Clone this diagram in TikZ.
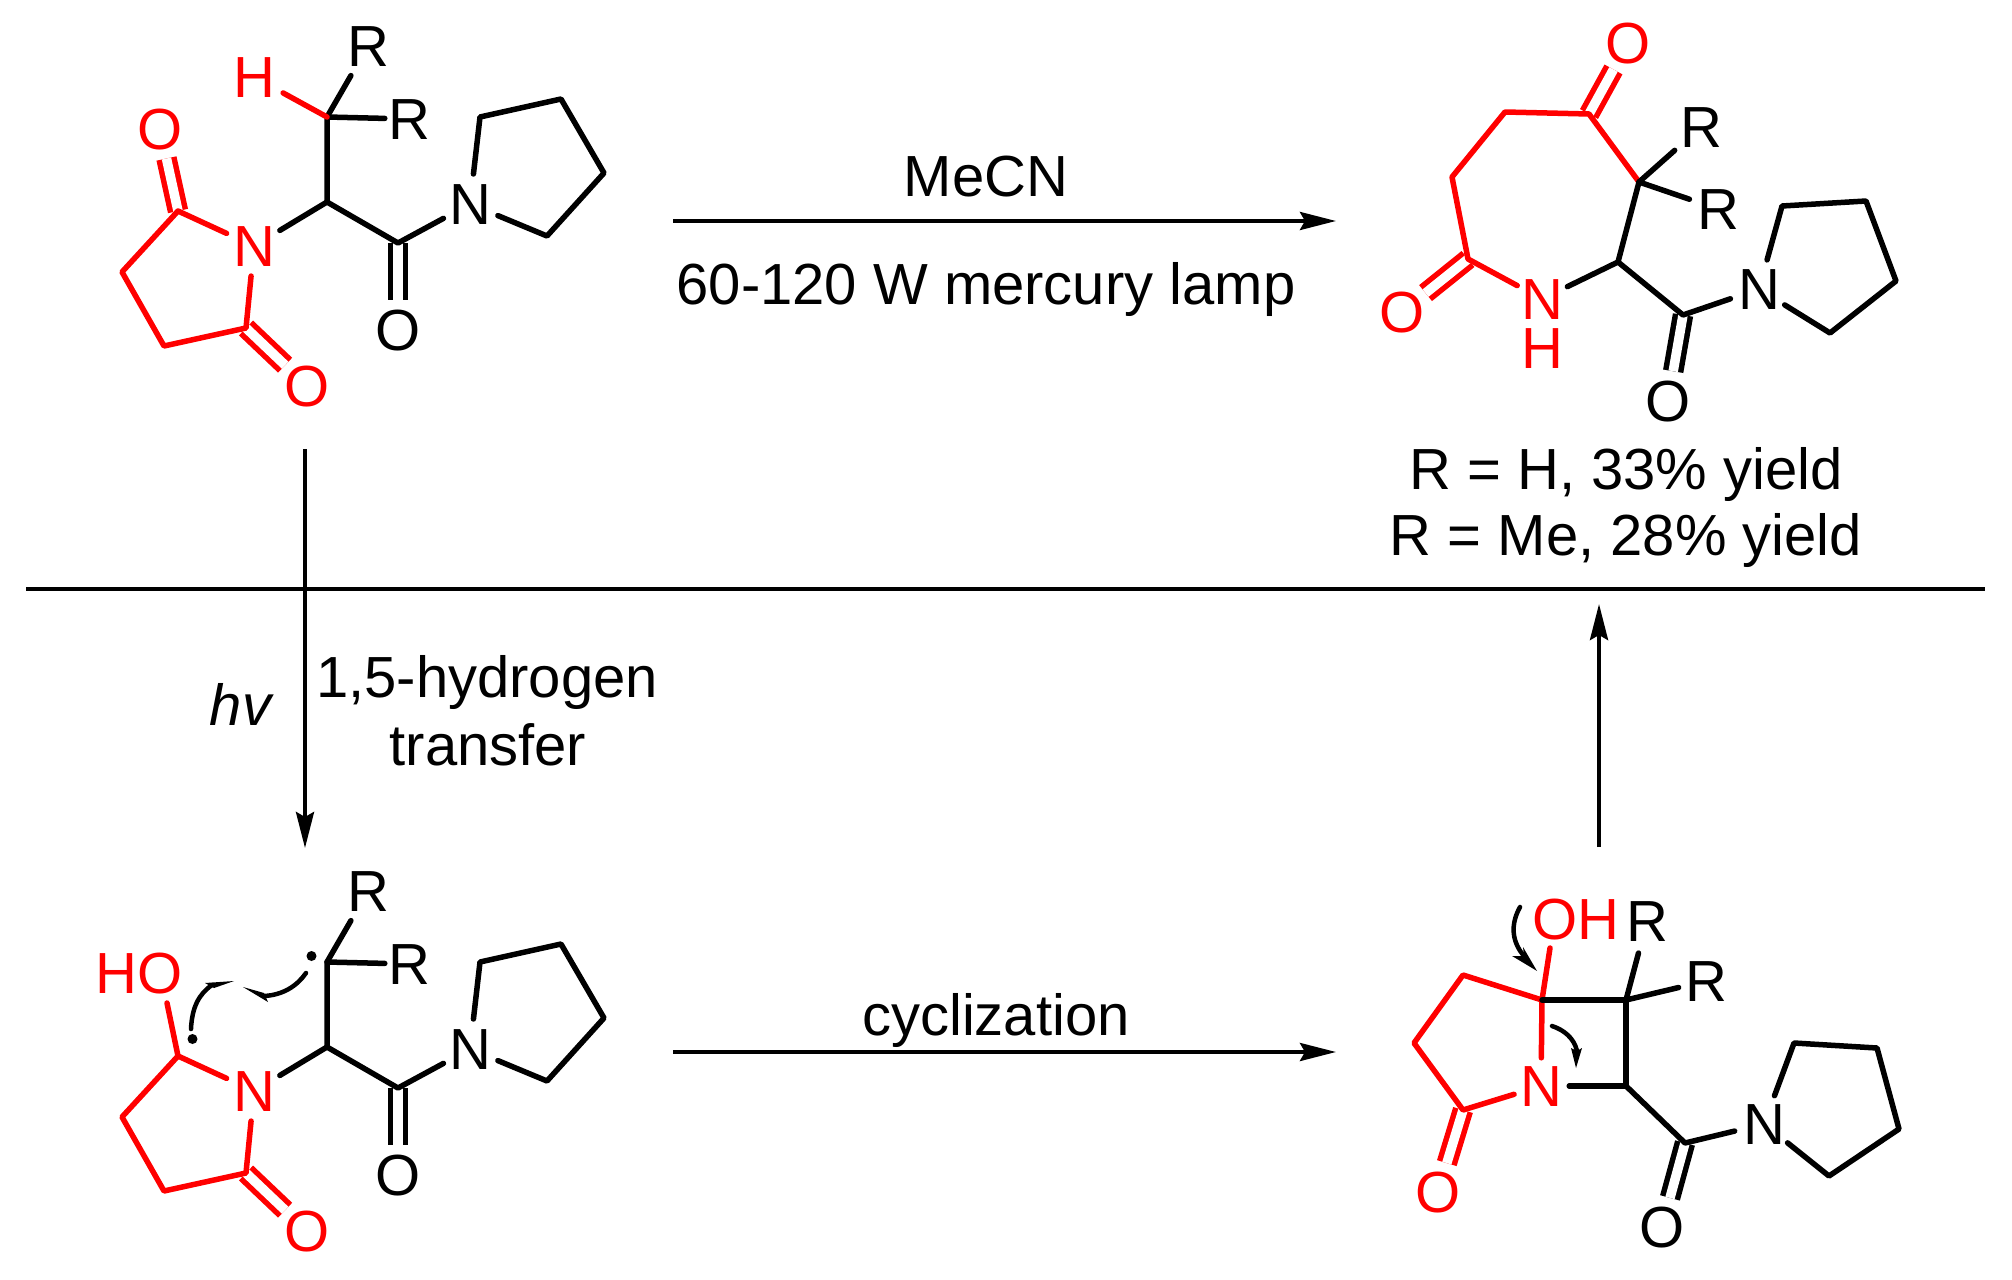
\documentclass[tikz,border=0pt]{standalone}
\usepackage{fontspec}
\setmainfont{Liberation Sans}
\usetikzlibrary{arrows.meta}
\definecolor{chemred}{RGB}{255,0,0}
% atom label: real text, centred on the node centre, with no influence on node size
\newcommand\lab[1]{\makebox[0pt]{\raisebox{-20.8pt}[0pt][0pt]{#1}}}
\newcommand\labbelow[1]{\makebox[0pt]{\raisebox{-69.8pt}[0pt][0pt]{#1}}}
\tikzset{
  x=1pt,y=-1pt,
  every node/.style={font=\fontsize{58}{58}\selectfont},
  atom/.style={circle,inner sep=0pt,minimum size=60pt},
  bond/.style={line width=5.5pt,line cap=round,line join=round},
  dbond/.style={line width=5.5pt,double,double distance=9.5pt},
  mainarrow/.style={line width=4pt,-{Stealth[length=36pt,width=18pt,inset=5pt]}},
  curvearrow/.style={line width=4.5pt,line cap=round},
  label/.style={inner sep=0pt},
  headfill/.style={fill=black,draw=none},
}
% part common to the starting material and the biradical
\newcommand\moleculeCore{
  \coordinate (cr) at (327,117);
  \coordinate (ca) at (327,202);
  \coordinate (cc) at (398,243);
  \coordinate (r1) at (480,117);
  \coordinate (r2) at (561,99);
  \coordinate (r3) at (604,173);
  \coordinate (r4) at (547,236);
  \coordinate (s2) at (122,272);
  \coordinate (s3) at (164,346);
  \coordinate (s4) at (246,328);
  \node[atom,text=chemred] (nim) at (254,246) {\lab{N}};
  \node[atom] (nam) at (470,204) {\lab{N}};
  \node[atom] (oam) at (398,330) {\lab{O}};
  \node[atom,text=chemred] (oim) at (307,386) {\lab{O}};
  \node[atom,minimum size=68pt] (ra) at (368,46) {\lab{R}};
  \node[atom,minimum size=48pt] (rb) at (409,119) {\lab{R}};
  \draw[dbond] (cc) -- (oam);
  \draw[dbond,chemred] (s4) -- (oim);
  \draw[bond] (ca) -- (cr) -- (ra);
  \draw[bond] (cr) -- (rb);
  \draw[bond] (nim) -- (ca) -- (cc) -- (nam);
  \draw[bond] (nam) -- (r1) -- (r2) -- (r3) -- (r4) -- (nam);
  \draw[bond,chemred] (s1) -- (s2) -- (s3) -- (s4) -- (nim) -- (s1);
}
\begin{document}
\begin{tikzpicture}
\path[use as bounding box] (0,0) rectangle (2012,1279);

% ---------- starting material
\begin{scope}[name prefix=a-]
  \coordinate (s1) at (178,211);
  \node[atom,text=chemred] (oa) at (160,129) {\lab{O}};
  \node[atom,text=chemred,minimum size=66pt] (h) at (254,77) {\lab{H}};
  \draw[dbond,chemred] (s1) -- (oa);
  \moleculeCore
  \draw[bond,chemred] (h) -- (cr);
\end{scope}

% ---------- biradical
\begin{scope}[name prefix=b-,shift={(0,845)}]
  \coordinate (s1) at (178,211);
  \coordinate (ohend) at (167,158);
  \moleculeCore
  \node[label,text=chemred] (ho) at (139,128) {\lab{HO}};
  \draw[bond,chemred] (ohend) -- (s1);
\end{scope}
\coordinate (c1s) at (191,1029);
\coordinate (c1a) at (192,1007);
\coordinate (c1b) at (199,994);
\coordinate (c1e) at (212,985);
\coordinate (c1t) at (234,981);
\coordinate (c1u) at (205,983);
\coordinate (c1v) at (214,988);
\draw[curvearrow] (c1s) .. controls (c1a) and (c1b) .. (c1e);
\fill[headfill] (c1t) -- (c1u) -- (c1v) -- cycle;
\coordinate (c2s) at (306,973);
\coordinate (c2a) at (297,986);
\coordinate (c2b) at (283,995);
\coordinate (c2e) at (264,996);
\coordinate (c2t) at (243,987);
\coordinate (c2u) at (268,1002);
\coordinate (c2v) at (264,993);
\draw[curvearrow] (c2s) .. controls (c2a) and (c2b) .. (c2e);
\fill[headfill] (c2t) -- (c2u) -- (c2v) -- cycle;
\node[circle,fill=black,inner sep=0pt,minimum size=10pt] (dotb) at (192.5,1039) {};
\node[circle,fill=black,inner sep=0pt,minimum size=10pt] (dota) at (311.5,956) {};

% ---------- azepanedione product
\coordinate (p1) at (1589,114);
\coordinate (p2) at (1505,112);
\coordinate (p3) at (1452,177);
\coordinate (p4) at (1468,259);
\coordinate (p5) at (1618,262);
\coordinate (p6) at (1639,182);
\coordinate (p7) at (1683,315);
\coordinate (q1) at (1782,206);
\coordinate (q2) at (1866,201);
\coordinate (q3) at (1896,281);
\coordinate (q4) at (1830,333);
\node[atom,text=chemred] (po1) at (1628,43) {\lab{O}};
\node[atom,text=chemred] (po2) at (1402,312) {\lab{O}};
\node[atom] (po3) at (1668,401) {\lab{O}};
\node[atom,text=chemred,minimum size=56pt] (pn) at (1542,299) {\lab{N}\labbelow{H}};
\node[atom] (pn2) at (1759,289) {\lab{N}};
\node[atom,minimum size=70pt] (pr1) at (1701,127) {\lab{R}};
\node[atom] (pr2) at (1718,209) {\lab{R}};
\draw[dbond,chemred] (p1) -- (po1);
\draw[dbond,chemred] (p4) -- (po2);
\draw[dbond] (p7) -- (po3);
\draw[bond,chemred] (pn) -- (p4) -- (p3) -- (p2) -- (p1) -- (p6);
\draw[bond] (pn) -- (p5) -- (p6) -- (pr1);
\draw[bond] (p6) -- (pr2);
\draw[bond] (p5) -- (p7) -- (pn2);
\draw[bond] (pn2) -- (q1) -- (q2) -- (q3) -- (q4) -- (pn2);

% ---------- azetidine intermediate
\coordinate (k1) at (1542,1000);
\coordinate (k2) at (1626,1000);
\coordinate (k3) at (1626,1086);
\coordinate (k4) at (1463,975);
\coordinate (k5) at (1414,1043);
\coordinate (k6) at (1463,1110);
\coordinate (k7) at (1685,1143);
\coordinate (w1) at (1794,1043);
\coordinate (w2) at (1877,1048);
\coordinate (w3) at (1899,1129);
\coordinate (w4) at (1829,1176);
\coordinate (koh) at (1550,948);
\node[label,text=chemred] (oh) at (1576,919) {\lab{OH}};
\node[atom,text=chemred,minimum size=56pt] (kn) at (1541,1086) {\lab{N}};
\node[atom] (kn2) at (1764,1124) {\lab{N}};
\node[atom,text=chemred] (ko1) at (1438,1192) {\lab{O}};
\node[atom] (ko2) at (1662,1227) {\lab{O}};
\node[atom,minimum size=66pt] (kr1) at (1647,921) {\lab{R}};
\node[atom,minimum size=56pt] (kr2) at (1706,981) {\lab{R}};
\draw[dbond,chemred] (k6) -- (ko1);
\draw[dbond] (k7) -- (ko2);
\draw[bond,chemred] (koh) -- (k1) -- (k4) -- (k5) -- (k6) -- (kn) -- (k1);
\draw[bond] (k1) -- (k2) -- (k3) -- (kn);
\draw[bond] (k2) -- (kr1);
\draw[bond] (k2) -- (kr2);
\draw[bond] (k3) -- (k7) -- (kn2);
\draw[bond] (kn2) -- (w1) -- (w2) -- (w3) -- (w4) -- (kn2);
\coordinate (d1s) at (1520,907);
\coordinate (d1a) at (1510,925);
\coordinate (d1b) at (1512,942);
\coordinate (d1e) at (1524,956);
\coordinate (d1t) at (1537,971);
\coordinate (d1u) at (1512,956);
\coordinate (d1v) at (1523,947);
\draw[curvearrow] (d1s) .. controls (d1a) and (d1b) .. (d1e);
\fill[headfill] (d1t) -- (d1u) -- (d1e) -- (d1v) -- cycle;
\coordinate (d2s) at (1552,1026);
\coordinate (d2a) at (1564,1030);
\coordinate (d2b) at (1574,1038);
\coordinate (d2e) at (1577,1051);
\coordinate (d2t) at (1576,1068);
\coordinate (d2u) at (1571,1048);
\coordinate (d2v) at (1582,1048);
\draw[curvearrow] (d2s) .. controls (d2a) and (d2b) .. (d2e);
\fill[headfill] (d2t) -- (d2u) -- (d2e) -- (d2v) -- cycle;

% ---------- arrows and rule
\coordinate (ruleL) at (26,589);
\coordinate (ruleR) at (1985,589);
\draw[line width=4pt] (ruleL) -- (ruleR);
\coordinate (t1) at (673,221);
\coordinate (t2) at (1336,221);
\coordinate (b1) at (673,1052);
\coordinate (b2) at (1336,1052);
\coordinate (v1) at (305,449);
\coordinate (v2) at (305,848);
\coordinate (u1) at (1599,847);
\coordinate (u2) at (1599,604);
\draw[mainarrow] (t1) -- (t2);
\draw[mainarrow] (b1) -- (b2);
\draw[mainarrow] (v1) -- (v2);
\draw[mainarrow] (u1) -- (u2);

% ---------- texts
\node[label] (tmecn) at (986,177) {MeCN};
\node[label] (tlamp) at (986,290) {60-120 W mercury lamp};
\node[label] (trh) at (1626,474) {R = H, 33\% yield};
\node[label] (trme) at (1626,540) {R = Me, 28\% yield};
\node[label] (thv) at (242,704) {\textit{hv}};
\node[label] (thyd) at (487,682) {1,5-hydrogen};
\node[label] (ttra) at (488,745) {transfer};
\node[label] (tcyc) at (996,1020) {cyclization};
\end{tikzpicture}
\end{document}
